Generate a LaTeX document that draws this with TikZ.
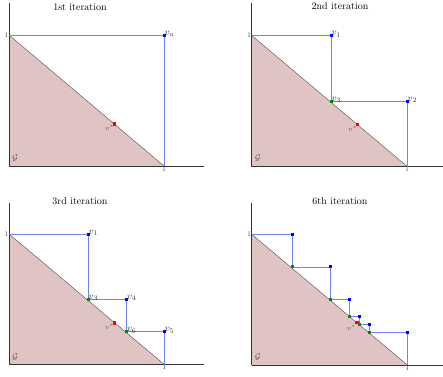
\documentclass[tikz,border=0pt]{standalone}
\usepackage{amsmath}
\usetikzlibrary{calc}
\begin{document}
\begin{tikzpicture}[x=1pt,y=-1pt,
  axis/.style={draw=black!80, line width=0.9pt},
  edge/.style={draw=black!70, line width=0.4pt},
  stair/.style={draw=stairblue, line width=0.9pt},
  bpt/.style={rectangle, fill=blue, inner sep=0pt, minimum size=3pt},
  gpt/.style={rectangle, fill=green!55!black, inner sep=0pt, minimum size=3pt},
  rpt/.style={rectangle, fill=red, inner sep=0pt, minimum size=3.6pt},
  vlab/.style={font=\fontsize{10}{11}\selectfont, inner sep=0.3pt, anchor=south west, text=black!80},
  ticklab/.style={font=\fontsize{7}{8}\selectfont, inner sep=0.5pt, text=black!70},
  glab/.style={font=\fontsize{8}{9}\selectfont, inner sep=0pt, text=black!75},
  title/.style={font=\fontsize{10}{12}\selectfont, inner sep=0pt}]
\definecolor{pinkfill}{RGB}{224,196,196}
\definecolor{stairblue}{RGB}{110,130,240}
\useasboundingbox (0,0) rectangle (443,376);

% ---------- Panel 1 ----------
\node[title] (t1) at (80,7) {1st iteration};
\begin{scope}[shift={(9,166)}, x=155pt, y=131pt]
  \fill[pinkfill] (0,0) -- (1,0) -- (0,1) -- cycle;
  \coordinate (a0) at (0,0);
  \coordinate (ax) at (1.258,0);
  \coordinate (ay) at (0,1.244);
  \coordinate (a1y) at (0,1);
  \coordinate (a1x) at (1,0);
  \draw[edge] (a1y) -- (a1x);
  \draw[axis] (a0) -- (ax);
  \draw[axis] (a0) -- (ay);
  \coordinate (avuc) at (1,1);
  \draw[stair] (a1y) -- (avuc) -- (a1x);
  \node[bpt] (avu) at (avuc) {};
  \node[vlab] (avul) at ($(avu)+(0pt,-2pt)$) {$v_u$};
  \node[rpt] (ar) at (0.68,0.32) {};
  \node[ticklab, anchor=north east] (arl) at ($(ar)+(0pt,-0.5pt)$) {$v^{*}$};
  \node[ticklab, anchor=east] (a1yl) at (a1y) {1};
  \node[ticklab, anchor=north] (a1xl) at (a1x) {1};
  \node[glab] (ag) at (0.04,0.06) {$\mathcal{G}$};
\end{scope}

% ---------- Panel 2 ----------
\node[title] (t2) at (340,6) {2nd iteration};
\begin{scope}[shift={(251.7,166.5)}, x=155.5pt, y=131pt]
  \fill[pinkfill] (0,0) -- (1,0) -- (0,1) -- cycle;
  \coordinate (b0) at (0,0);
  \coordinate (bx) at (1.25,0);
  \coordinate (by) at (0,1.245);
  \coordinate (b1y) at (0,1);
  \coordinate (b1x) at (1,0);
  \draw[edge] (b1y) -- (b1x);
  \draw[axis] (b0) -- (bx);
  \draw[axis] (b0) -- (by);
  \coordinate (bv1c) at (0.51,1);
  \coordinate (bv3c) at (0.51,0.5);
  \coordinate (bv2c) at (1,0.5);
  \draw[stair] (b1y) -- (bv1c) -- (bv3c) -- (bv2c) -- (b1x);
  \node[bpt] (bv1) at (bv1c) {};
  \node[gpt] (bv3) at (bv3c) {};
  \node[bpt] (bv2) at (bv2c) {};
  \node[vlab] (bv1l) at ($(bv1)+(0pt,-2pt)$) {$v_1$};
  \node[vlab] (bv3l) at ($(bv3)+(0pt,-2pt)$) {$v_3$};
  \node[vlab] (bv2l) at ($(bv2)+(0pt,-2pt)$) {$v_2$};
  \node[rpt] (br) at (0.68,0.32) {};
  \node[ticklab, anchor=north east] (brl) at ($(br)+(0pt,-0.5pt)$) {$v^{*}$};
  \node[ticklab, anchor=east] (b1yl) at (b1y) {1};
  \node[ticklab, anchor=north] (b1xl) at (b1x) {1};
  \node[glab] (bg) at (0.04,0.06) {$\mathcal{G}$};
\end{scope}

% ---------- Panel 3 ----------
\node[title] (t3) at (80,201) {3rd iteration};
\begin{scope}[shift={(9,364.5)}, x=155.3pt, y=130.5pt]
  \fill[pinkfill] (0,0) -- (1,0) -- (0,1) -- cycle;
  \coordinate (c0) at (0,0);
  \coordinate (cx) at (1.258,0);
  \coordinate (cy) at (0,1.24);
  \coordinate (c1y) at (0,1);
  \coordinate (c1x) at (1,0);
  \draw[edge] (c1y) -- (c1x);
  \draw[axis] (c0) -- (cx);
  \draw[axis] (c0) -- (cy);
  \coordinate (cv1c) at (0.51,1);
  \coordinate (cv3c) at (0.51,0.5);
  \coordinate (cv4c) at (0.757,0.5);
  \coordinate (cv6c) at (0.757,0.25);
  \coordinate (cv5c) at (1,0.25);
  \draw[stair] (c1y) -- (cv1c) -- (cv3c) -- (cv4c) -- (cv6c) -- (cv5c) -- (c1x);
  \node[bpt] (cv1) at (cv1c) {};
  \node[gpt] (cv3) at (cv3c) {};
  \node[bpt] (cv4) at (cv4c) {};
  \node[gpt] (cv6) at (cv6c) {};
  \node[bpt] (cv5) at (cv5c) {};
  \node[vlab] (cv1l) at ($(cv1)+(0pt,-2pt)$) {$v_1$};
  \node[vlab] (cv3l) at ($(cv3)+(0pt,-2pt)$) {$v_3$};
  \node[vlab] (cv4l) at ($(cv4)+(0pt,-2pt)$) {$v_4$};
  \node[vlab] (cv6l) at ($(cv6)+(0pt,-2pt)$) {$v_6$};
  \node[vlab] (cv5l) at ($(cv5)+(0pt,-2pt)$) {$v_5$};
  \node[rpt] (cr) at (0.68,0.32) {};
  \node[ticklab, anchor=north east] (crl) at ($(cr)+(0pt,-0.5pt)$) {$v^{*}$};
  \node[ticklab, anchor=east] (c1yl) at (c1y) {1};
  \node[ticklab, anchor=north] (c1xl) at (c1x) {1};
  \node[glab] (cg) at (0.04,0.06) {$\mathcal{G}$};
\end{scope}

% ---------- Panel 4 ----------
\node[title] (t4) at (340,201) {6th iteration};
\begin{scope}[shift={(251.7,365)}, x=155.6pt, y=130.7pt]
  \fill[pinkfill] (0,0) -- (1,0) -- (0,1) -- cycle;
  \coordinate (d0) at (0,0);
  \coordinate (dx) at (1.23,0);
  \coordinate (dy) at (0,1.24);
  \coordinate (d1y) at (0,1);
  \coordinate (d1x) at (1,0);
  \draw[edge] (d1y) -- (d1x);
  \draw[axis] (d0) -- (dx);
  \draw[axis] (d0) -- (dy);
  \coordinate (dp1) at (0.26,1);
  \coordinate (dp2) at (0.26,0.75);
  \coordinate (dp3) at (0.505,0.75);
  \coordinate (dp4) at (0.505,0.5);
  \coordinate (dp5) at (0.627,0.5);
  \coordinate (dp6) at (0.627,0.373);
  \coordinate (dp7) at (0.69,0.373);
  \coordinate (dp8) at (0.69,0.31);
  \coordinate (dp9) at (0.756,0.31);
  \coordinate (dp10) at (0.756,0.25);
  \coordinate (dp11) at (1,0.25);
  \draw[stair] (d1y) -- (dp1) -- (dp2) -- (dp3) -- (dp4) -- (dp5) -- (dp6) -- (dp7) -- (dp8) -- (dp9) -- (dp10) -- (dp11) -- (d1x);
  \node[bpt] (dv1) at (dp1) {};
  \node[gpt] (dv2) at (dp2) {};
  \node[bpt] (dv3) at (dp3) {};
  \node[gpt] (dv4) at (dp4) {};
  \node[bpt] (dv5) at (dp5) {};
  \node[gpt] (dv6) at (dp6) {};
  \node[bpt] (dv7) at (dp7) {};
  \node[rpt] (dr) at (0.675,0.325) {};
  \node[gpt] (dv8) at (dp8) {};
  \node[bpt] (dv9) at (dp9) {};
  \node[gpt] (dv10) at (dp10) {};
  \node[bpt] (dv11) at (dp11) {};
  \node[ticklab, anchor=north east] (drl) at ($(dr)+(-0.5pt,-2pt)$) {$v^{*}$};
  \node[ticklab, anchor=east] (d1yl) at (d1y) {1};
  \node[ticklab, anchor=north] (d1xl) at (d1x) {1};
  \node[glab] (dg) at (0.04,0.06) {$\mathcal{G}$};
\end{scope}
\end{tikzpicture}
\end{document}
